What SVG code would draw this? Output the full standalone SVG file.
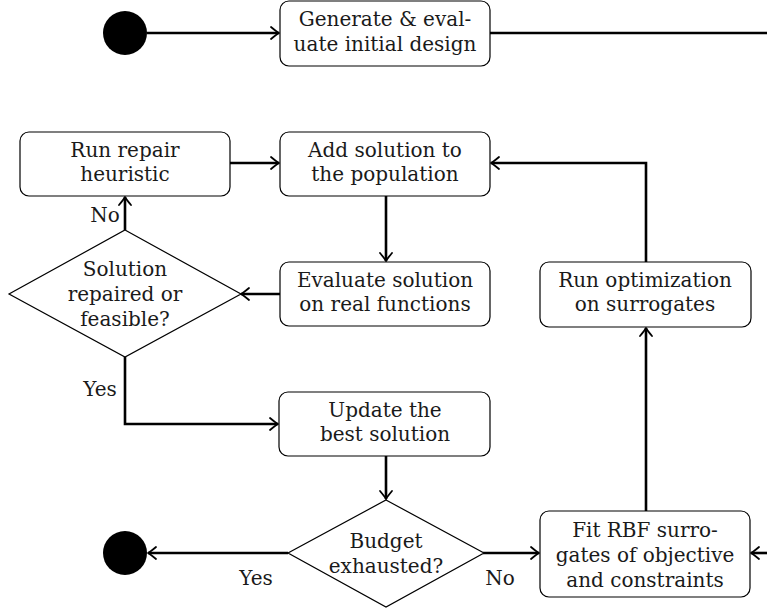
<svg xmlns="http://www.w3.org/2000/svg" width="767" height="610" viewBox="0 0 767 610">
<style>
.box{fill:#fff;stroke:#000;stroke-width:1.2}
.dia{fill:#fff;stroke:#000;stroke-width:1.2}
.c{fill:none;stroke:#000;stroke-width:2.6}
.ar{fill:none;stroke:#000;stroke-width:1.8;stroke-linecap:round;stroke-linejoin:round}
</style>
<defs>
<marker id="arr" markerUnits="userSpaceOnUse" markerWidth="16" markerHeight="16" viewBox="-11 -8 16 16" refX="0" refY="0" orient="auto">
<path class="ar" d="M -8 -6 Q -2 -1 0 0 Q -2 1 -8 6"/>
</marker>
</defs>
<g font-family="DejaVu Serif" font-size="20" fill="#1a1a1a" text-anchor="middle">
<g id="connectors">
<path class="c" d="M147 33 H279" marker-end="url(#arr)"/>
<path class="c" d="M490 33 H767"/>
<path class="c" d="M230 163 H279" marker-end="url(#arr)"/>
<path class="c" d="M646 262 V163 H491" marker-end="url(#arr)"/>
<path class="c" d="M386 196 V261" marker-end="url(#arr)"/>
<path class="c" d="M280 294 H241" marker-end="url(#arr)"/>
<path class="c" d="M125 230 V197" marker-end="url(#arr)"/>
<path class="c" d="M125 357 V424 H278" marker-end="url(#arr)"/>
<path class="c" d="M386 456 V499" marker-end="url(#arr)"/>
<path class="c" d="M288 553 H148" marker-end="url(#arr)"/>
<path class="c" d="M483 553 H539" marker-end="url(#arr)"/>
<path class="c" d="M767 553 H751" marker-end="url(#arr)"/>
<path class="c" d="M646 511 V328" marker-end="url(#arr)"/>
<text x="105" y="222">No</text>
<text x="100" y="396">Yes</text>
<text x="256" y="585">Yes</text>
<text x="500" y="585">No</text>
</g>
<g id="start"><circle cx="125" cy="33" r="22" fill="#000"/></g>
<g id="end"><circle cx="125" cy="553" r="22" fill="#000"/></g>
<g id="generate">
<rect class="box" x="280" y="1" width="210" height="65" rx="9"/>
<text x="385" y="26">Generate &amp; eval-</text>
<text x="385" y="51">uate initial design</text>
</g>
<g id="repair">
<rect class="box" x="20" y="132" width="210" height="64" rx="9"/>
<text x="125" y="157">Run repair</text>
<text x="125" y="181">heuristic</text>
</g>
<g id="add">
<rect class="box" x="280" y="132" width="210" height="64" rx="9"/>
<text x="385" y="157">Add solution to</text>
<text x="385" y="181">the population</text>
</g>
<g id="evaluate">
<rect class="box" x="280" y="262" width="210" height="64" rx="9"/>
<text x="385" y="287">Evaluate solution</text>
<text x="385" y="311">on real functions</text>
</g>
<g id="feasible">
<polygon class="dia" points="125,230 241,294 125,357 9,294"/>
<text x="125" y="276">Solution</text>
<text x="125" y="301">repaired or</text>
<text x="125" y="326">feasible?</text>
</g>
<g id="runopt">
<rect class="box" x="540" y="262" width="211" height="65" rx="9"/>
<text x="645" y="287">Run optimization</text>
<text x="645" y="311">on surrogates</text>
</g>
<g id="update">
<rect class="box" x="279" y="392" width="211" height="64" rx="9"/>
<text x="385" y="417">Update the</text>
<text x="385" y="441">best solution</text>
</g>
<g id="budget">
<polygon class="dia" points="386,500 484,553 386,607 288,553"/>
<text x="386" y="548">Budget</text>
<text x="386" y="573">exhausted?</text>
</g>
<g id="fit">
<rect class="box" x="540" y="511" width="210" height="86" rx="9"/>
<text x="645" y="537">Fit RBF surro-</text>
<text x="645" y="562">gates of objective</text>
<text x="645" y="587">and constraints</text>
</g>
</g>
</svg>
